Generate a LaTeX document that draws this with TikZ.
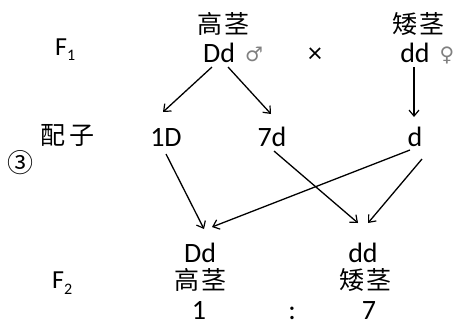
\documentclass[tikz,border=0pt]{standalone}
\usepackage{fontspec}
\setmainfont{Carlito}
\newfontfamily\cjk{Noto Sans CJK SC}
\newfontfamily\symf{DejaVu Sans}
\usetikzlibrary{arrows.meta,calc}
\begin{document}
\begin{tikzpicture}[x=1pt,y=-1pt,
  lat/.style={font=\fontsize{28}{30}\selectfont, inner sep=0pt, anchor=base},
  gen/.style={inner sep=0pt, anchor=base west},
  han/.style={font=\fontsize{25}{27}\selectfont\cjk, inner sep=0pt, anchor=center},
  sx/.style={font=\fontsize{20}{22}\selectfont\symf, text=gray, inner sep=0pt, anchor=base},
  arr/.style={-{Straight Barb[length=6pt,width=10pt,line width=1.2pt]}, line width=1.3pt},
]
\useasboundingbox (0,0) rectangle (455,322);
% row F1
\node[gen] (f1) at (55,55) {\fontsize{26}{28}\selectfont F\raisebox{-5pt}{\fontsize{16}{16}\selectfont 1}};
\node[han] (tall1) at (223,24) {高\hspace{2pt}茎};
\node[lat] (Dd1) at (219,62) {Dd};
\node[sx] (male) at (254,61) {♂};
\node[lat] (cross) at (315,62) {×};
\node[han] (short1) at (418,24) {矮\hspace{2pt}茎};
\node[lat] (dd1) at (415,62) {dd};
\node[sx] (female) at (447,61) {♀};
% gametes
\node[han] (gam) at (67,135) {配\hspace{4pt}子};
\node[font=\fontsize{26}{28}\selectfont\cjk, inner sep=0pt] (num) at (21,163) {③};
\node[lat] (oneD) at (166,146) {1D};
\node[lat] (sevend) at (272,146) {7d};
\node[lat] (dgam) at (415,146) {d};
% F2
\node[lat] (Dd2) at (200,262) {Dd};
\node[lat] (dd2) at (363,262) {dd};
\node[han] (tall2) at (200,280) {高\hspace{2pt}茎};
\node[han] (short2) at (365,280) {矮\hspace{2pt}茎};
\node[gen] (f2) at (52,288) {\fontsize{26}{28}\selectfont F\raisebox{-6pt}{\fontsize{16}{16}\selectfont 2}};
\node[lat] (r1) at (199,319) {1};
\node[lat] (colon) at (292,319) {:};
\node[lat] (r7) at (369,319) {7};
% arrows
\draw[arr] ($(Dd1.base)+(-7,5)$) -- ($(oneD.base)+(-3,-34)$);
\draw[arr] ($(Dd1.base)+(9,5)$) -- ($(sevend.base)+(-1,-32)$);
\draw[arr] ($(dd1.base)+(-1,5)$) -- ($(dgam.base)+(-1,-29)$);
\draw[arr] ($(oneD.base)+(0,8)$) -- ($(Dd2.base)+(4,-33)$);
\draw[arr] ($(sevend.base)+(2,5)$) -- ($(dd2.base)+(-5,-39)$);
\draw[arr] ($(dgam.base)+(-5,4)$) -- ($(Dd2.base)+(12,-35)$);
\draw[arr] ($(dgam.base)+(7,13)$) -- ($(dd2.base)+(5,-39)$);
\end{tikzpicture}
\end{document}
